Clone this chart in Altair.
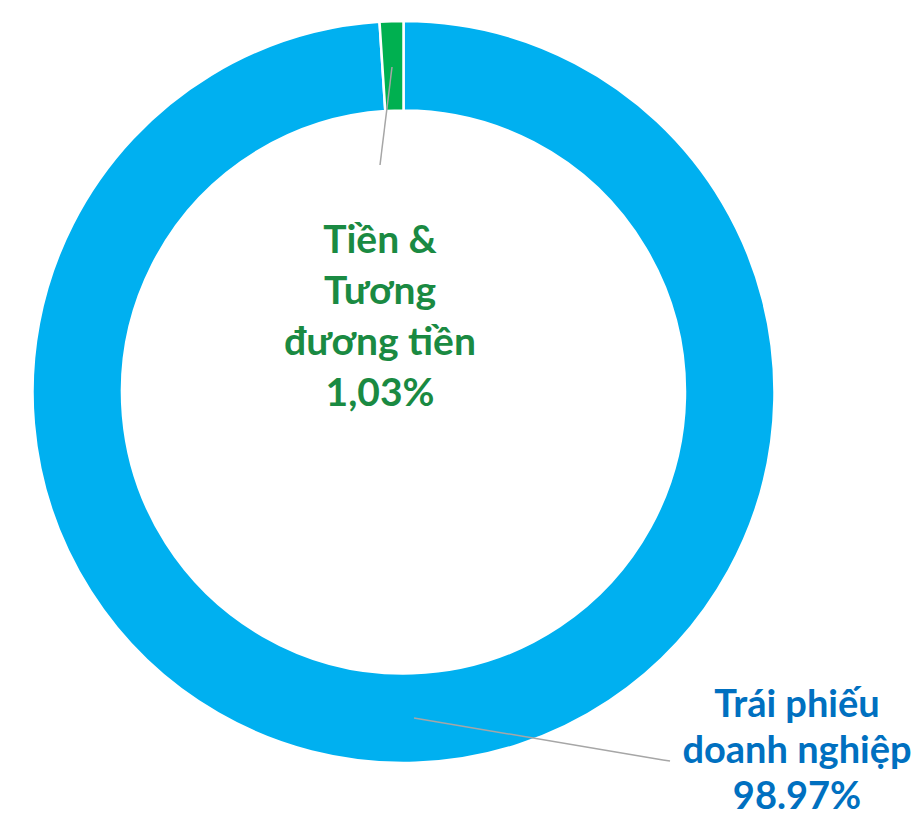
import altair as alt
import pandas as pd

categories = ["Trái phiếu doanh nghiệp", "Tiền & Tương đương tiền"]
values = [98.97, 1.03]
value_labels = ["98.97%", "1,03%"]
name_lines = [["Trái phiếu", "doanh nghiệp"], ["Tiền &", "Tương", "đương tiền"]]
slice_colors = ["#00B0F0", "#00B050"]
text_colors = ["#0070C0", "#1A8A42"]

df = pd.DataFrame({
    "category": categories,
    "value": values,
    "order": list(range(len(categories))),
    "label": ["\n".join(n + [v]) for n, v in zip(name_lines, value_labels)],
})

W, H = 906, 813
CX, CY = 395.5, 384
R_OUT, R_IN = 371, 281.5
FONT = "Lato"

base = alt.Chart(df)

donut = base.mark_arc(outerRadius=R_OUT, innerRadius=R_IN, stroke="white", strokeWidth=2.5).encode(
    theta=alt.Theta("value:Q", stack=True),
    order=alt.Order("order:Q"),
    color=alt.Color("category:N", scale=alt.Scale(domain=categories, range=slice_colors), legend=None),
    x=alt.value(CX),
    y=alt.value(CY),
)

lead_green = base.transform_filter(alt.datum.order == 1).mark_rule(color="#A6A6A6", strokeWidth=1.5).encode(
    x=alt.value(384), y=alt.value(59), x2=alt.value(372), y2=alt.value(157)
)
lead_blue1 = base.transform_filter(alt.datum.order == 0).mark_rule(color="#A6A6A6", strokeWidth=1.5).encode(
    x=alt.value(406), y=alt.value(710), x2=alt.value(655), y2=alt.value(752)
)
lead_blue2 = base.transform_filter(alt.datum.order == 0).mark_rule(color="#A6A6A6", strokeWidth=1.5).encode(
    x=alt.value(655), y=alt.value(752), x2=alt.value(662), y2=alt.value(753)
)

label_green = base.transform_filter(alt.datum.order == 1).mark_text(
    font=FONT, fontSize=39, fontWeight="bold", color=text_colors[1], lineBreak="\n",
    lineHeight=51, align="center", baseline="alphabetic"
).encode(text="label:N", x=alt.value(372), y=alt.value(245))

label_blue = base.transform_filter(alt.datum.order == 0).mark_text(
    font=FONT, fontSize=38, fontWeight="bold", color=text_colors[0], lineBreak="\n",
    lineHeight=46, align="center", baseline="alphabetic"
).encode(text="label:N", x=alt.value(789), y=alt.value(709))

chart = alt.layer(donut, lead_green, lead_blue1, lead_blue2, label_green, label_blue).properties(
    width=W, height=H, padding=0, autosize=alt.AutoSizeParams(type="none")
).configure_view(stroke=None)

chart.save("out.html", embed_options={"renderer": "svg", "actions": False})
